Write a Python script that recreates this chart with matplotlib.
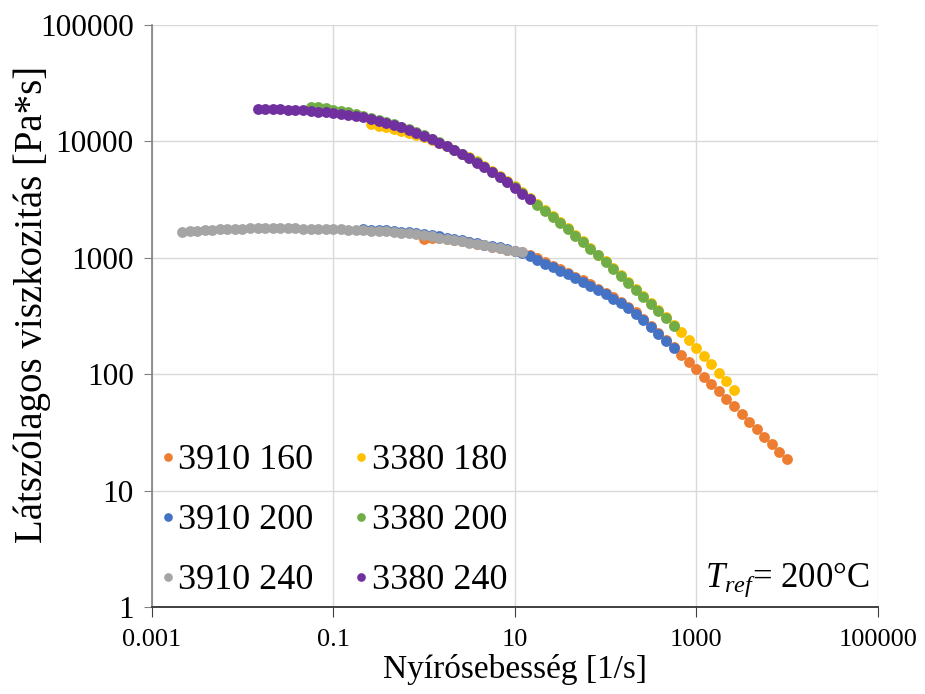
import matplotlib
matplotlib.use("Agg")
from matplotlib import pyplot as plt
from matplotlib import ticker as mticker

plt.rcParams["font.family"] = "serif"
plt.rcParams["font.serif"] = ["Liberation Serif", "DejaVu Serif"]
plt.rcParams["mathtext.fontset"] = "custom"
plt.rcParams["mathtext.rm"] = "Liberation Serif"
plt.rcParams["mathtext.it"] = "Liberation Serif:italic"

# shear rate grid [1/s], 12 points per decade
shear_rate = [
    0.001, 0.00121, 0.00147, 0.00178, 0.00215, 0.00261, 0.00316, 0.00383, 0.00464, 0.00562, 0.00681, 0.00825,
    0.01, 0.0121, 0.0147, 0.0178, 0.0215, 0.0261, 0.0316, 0.0383, 0.0464, 0.0562, 0.0681, 0.0825,
    0.1, 0.121, 0.147, 0.178, 0.215, 0.261, 0.316, 0.383, 0.464, 0.562, 0.681, 0.825,
    1, 1.21, 1.47, 1.78, 2.15, 2.61, 3.16, 3.83, 4.64, 5.62, 6.81, 8.25,
    10, 12.1, 14.7, 17.8, 21.5, 26.1, 31.6, 38.3, 46.4, 56.2, 68.1, 82.5,
    100, 121, 147, 178, 215, 261, 316, 383, 464, 562, 681, 825,
    1000, 1210, 1470, 1780, 2150, 2610, 3160, 3830, 4640, 5620, 6810, 8250,
    10000,
]

# apparent viscosity [Pa*s] for each sample / temperature
visc_3910_160 = [1460, 1470, 1470, 1455, 1430, 1400, 1364, 1328, 1288, 1245,
                 1216, 1180, 1153, 1115, 1055, 990, 920, 857, 798, 743,
                 690, 640, 592, 543, 499, 457, 417, 378, 340, 300,
                 261, 228, 197, 171, 148, 128, 111, 95.7, 82.6, 71.3,
                 61.5, 53.0, 45.6, 39.3, 33.8, 29.1, 25.1, 21.6, 18.6]
visc_3380_180 = [14090, 13650, 13210, 12760, 12300, 11830, 11320, 10810, 10250, 9660,
                 9080, 8470, 7850, 7360, 6745, 6170, 5610, 5080, 4580, 4120,
                 3680, 3280, 2920, 2600, 2300, 2040, 1800, 1581, 1390, 1222,
                 1069, 935, 818, 714, 622, 542, 471, 409, 356, 308,
                 267, 229, 196, 167, 143, 122, 103, 87.5, 74.1]
visc_3910_200 = [1760, 1750, 1738, 1722, 1704, 1684, 1660, 1633, 1601, 1565,
                 1528, 1490, 1452, 1414, 1380, 1343, 1303, 1262, 1230, 1194,
                 1153, 1096, 1030, 966, 895, 834, 776, 723, 671, 622,
                 575, 528, 485, 445, 406, 368, 331, 292, 254, 221,
                 192, 167]
visc_3380_200 = [19950, 19590, 19190, 18710, 18280, 17780, 17220, 16630, 16000, 15350,
                 14690, 14030, 13370, 12680, 11970, 11270, 10570, 9860, 9180, 8510,
                 7850, 7230, 6620, 6050, 5510, 4990, 4500, 4050, 3610, 3220,
                 2870, 2550, 2260, 2000, 1766, 1552, 1365, 1199, 1050, 918,
                 803, 701, 611, 532, 462, 402, 349, 303, 262]
visc_3910_240 = [1679, 1698, 1714, 1730, 1746, 1758, 1770, 1778, 1786, 1795,
                 1799, 1803, 1803, 1799, 1795, 1791, 1786, 1782, 1778, 1770,
                 1766, 1758, 1750, 1742, 1730, 1718, 1706, 1687, 1667, 1644,
                 1622, 1596, 1567, 1531, 1496, 1459, 1422, 1387, 1355, 1315,
                 1279, 1245, 1213, 1180, 1148, 1114]
visc_3380_240 = [18970, 18970, 18920, 18880, 18790, 18710, 18540, 18320, 18070, 17820,
                 17540, 17300, 16980, 16600, 16140, 15630, 15070, 14490, 13870, 13210,
                 12530, 11830, 11140, 10440, 9750, 9080, 8410, 7760, 7140, 6550,
                 5980, 5450, 4930, 4450, 4000, 3570, 3180]

# first grid index of each series
start_3910_160 = 36
start_3380_180 = 29
start_3910_200 = 28
start_3380_200 = 21
start_3910_240 = 4
start_3380_240 = 14

series = [
    ("3910 160", start_3910_160, visc_3910_160, "#ED7D31"),
    ("3380 180", start_3380_180, visc_3380_180, "#FFC000"),
    ("3910 200", start_3910_200, visc_3910_200, "#4472C4"),
    ("3380 200", start_3380_200, visc_3380_200, "#70AD47"),
    ("3910 240", start_3910_240, visc_3910_240, "#A5A5A5"),
    ("3380 240", start_3380_240, visc_3380_240, "#7030A0"),
]

fig = plt.figure(figsize=(9.25, 6.94), dpi=100)
ax = fig.add_axes([0.164, 0.125, 0.785, 0.839])

handles = {}
for label, i0, visc, color in series:
    x = shear_rate[i0:i0 + len(visc)]
    h, = ax.plot(x, visc, linestyle="none", marker="o", markersize=7.8,
                 markeredgewidth=0, color=color, label=label)
    handles[label] = h

ax.set_xscale("log")
ax.set_yscale("log")
ax.set_xlim(0.001, 100000)
ax.set_ylim(1, 100000)
ax.xaxis.set_major_locator(mticker.FixedLocator([0.001, 0.1, 10, 1000, 100000]))
ax.yaxis.set_major_locator(mticker.FixedLocator([1, 10, 100, 1000, 10000, 100000]))
ax.xaxis.set_minor_locator(mticker.NullLocator())
ax.yaxis.set_minor_locator(mticker.NullLocator())
fmt = mticker.FuncFormatter(lambda v, _: f"{v:g}")
ax.xaxis.set_major_formatter(fmt)
ax.yaxis.set_major_formatter(fmt)

ax.grid(True, color="#d9d9d9", linewidth=1)
ax.set_axisbelow(True)
for s in ["top", "right"]:
    ax.spines[s].set_visible(False)
ax.spines["left"].set_color("#808080")
ax.spines["left"].set_linewidth(1.2)
ax.spines["bottom"].set_color("#404040")
ax.spines["bottom"].set_linewidth(1.4)
ax.tick_params(axis="y", length=6, color="#808080", labelsize=22.5, pad=7)
ax.tick_params(axis="x", length=7, color="#404040", labelsize=19, pad=9)

ax.set_xlabel("Nyírósebesség [1/s]", fontsize=24, labelpad=2)
ax.set_ylabel("Látszólagos viszkozitás [Pa*s]", fontsize=28)
ax.yaxis.set_label_coords(-0.139, 0.52)

order = ["3910 160", "3910 200", "3910 240", "3380 180", "3380 200", "3380 240"]
ax.legend([handles[k] for k in order], order, ncol=2, frameon=False,
          loc="lower left", bbox_to_anchor=(-0.018, -0.02), fontsize=26,
          markerscale=0.8, handlelength=0.4, handletextpad=0.08,
          columnspacing=1.14, labelspacing=0.74, borderaxespad=0.2)

ax.text(0.989, 0.035, "$T_{ref}$= 200°C", transform=ax.transAxes,
        ha="right", va="baseline", fontsize=25)

fig.savefig("out.png", dpi=100)
